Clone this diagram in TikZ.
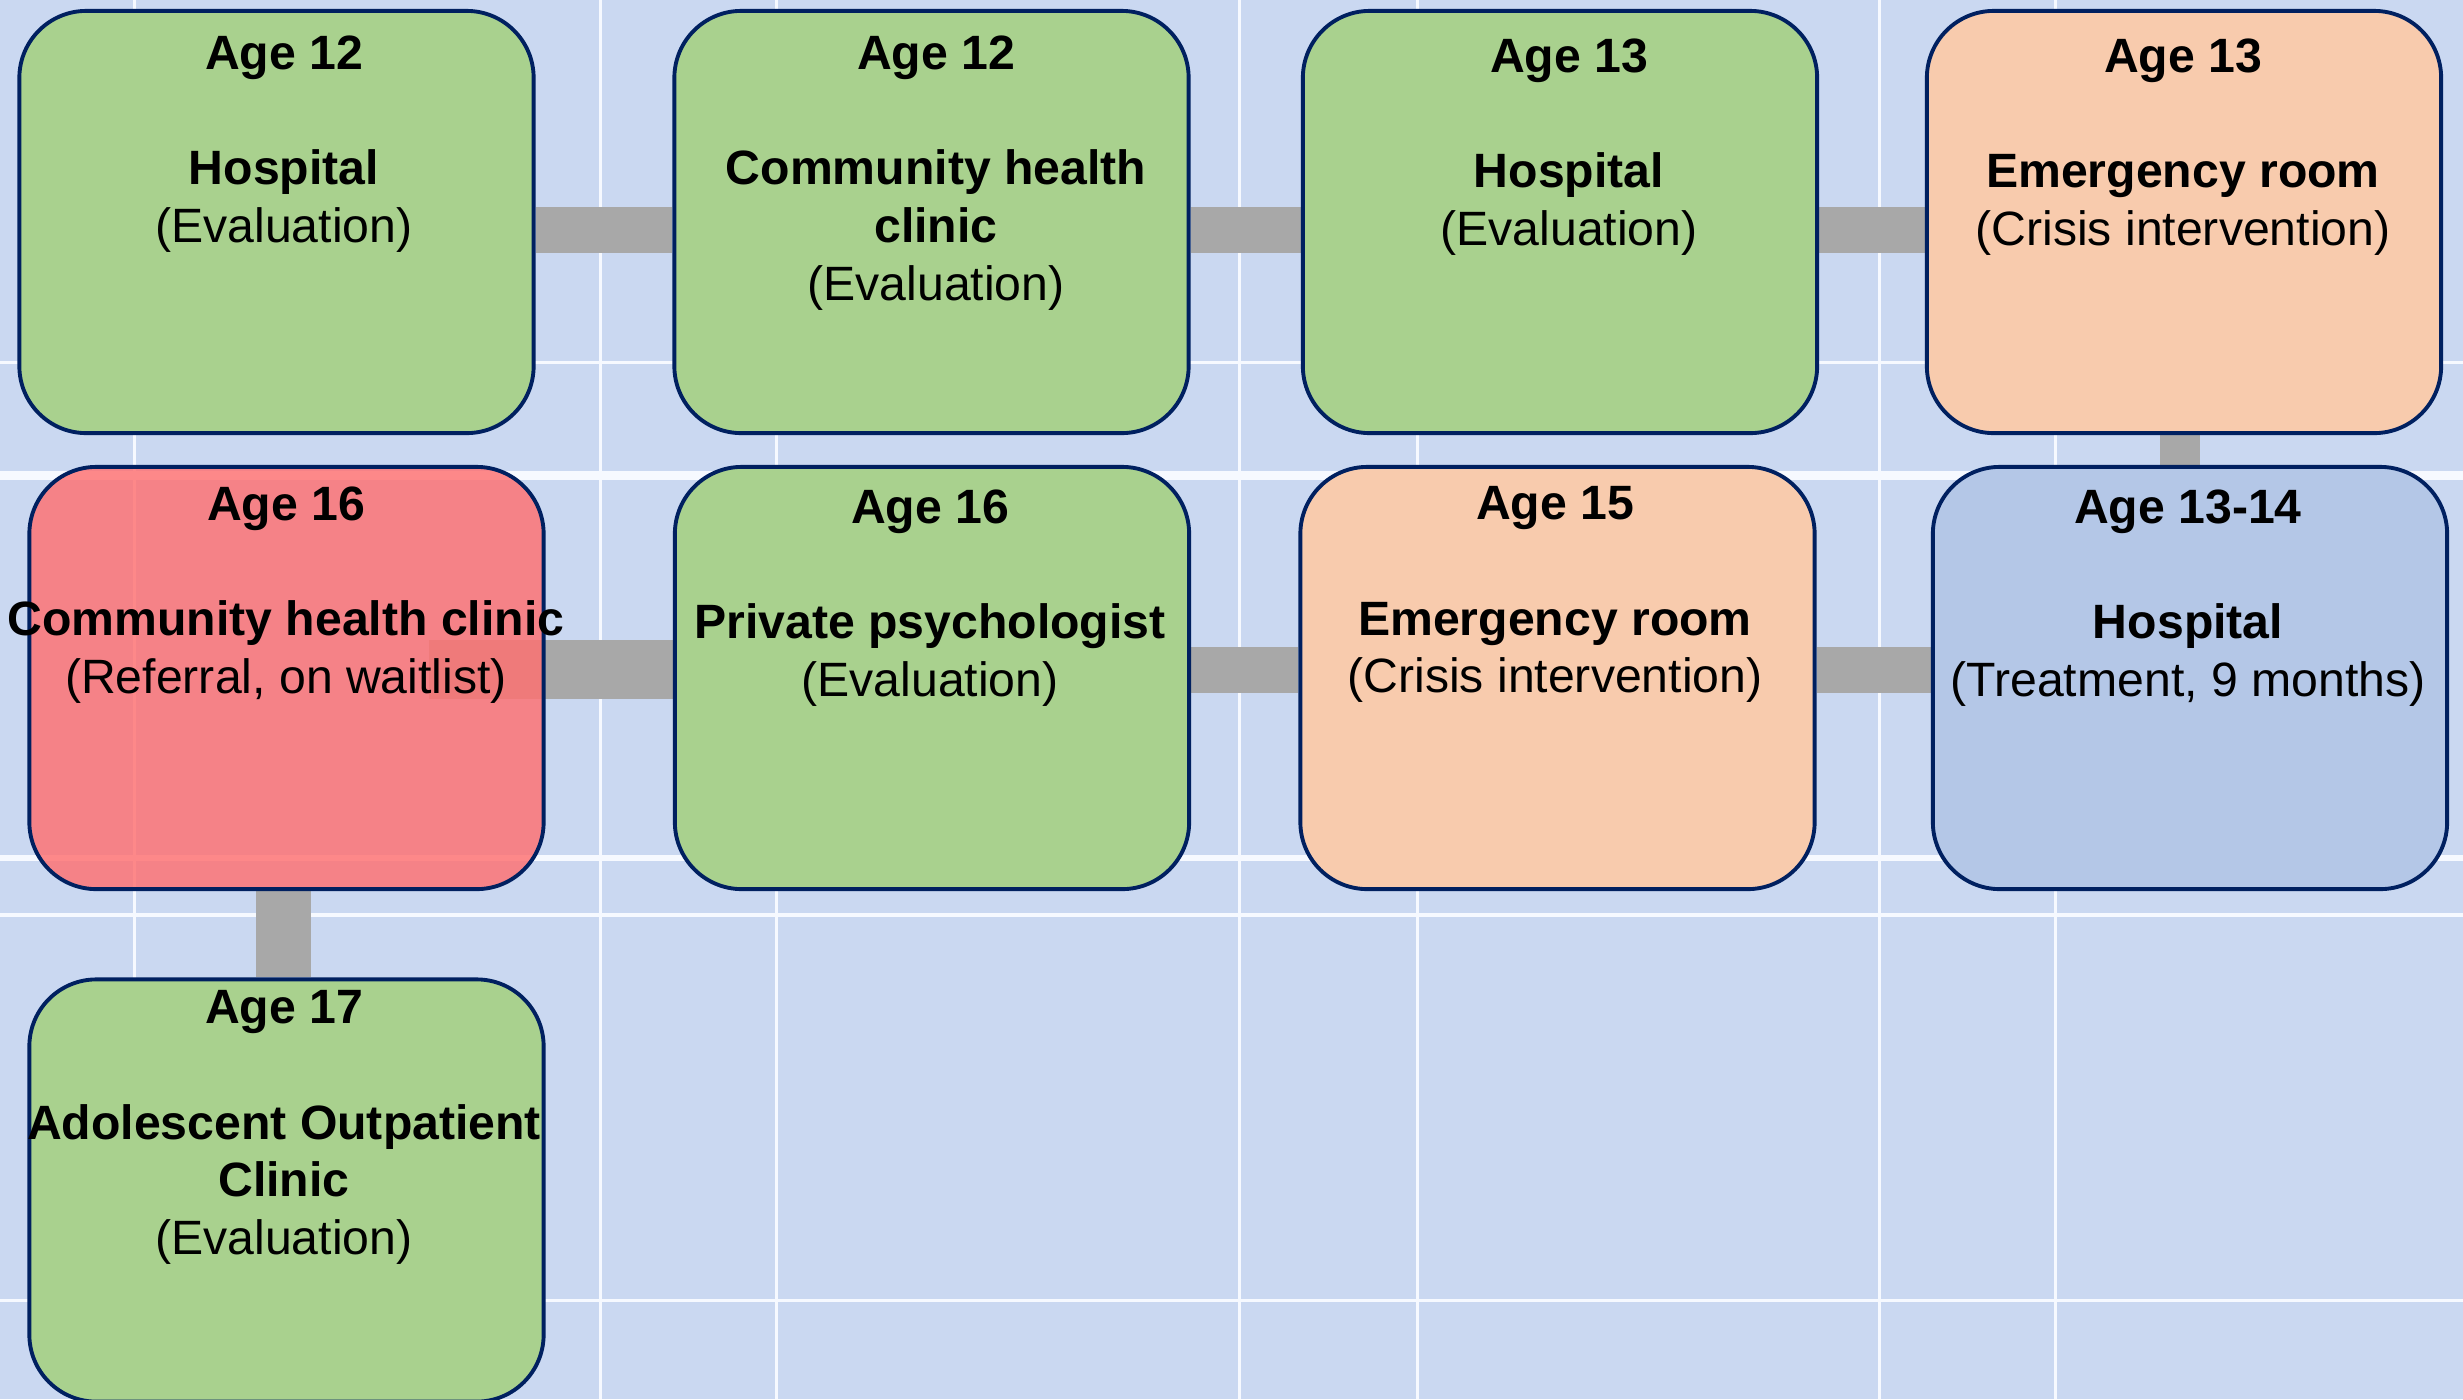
\documentclass[tikz,border=0pt]{standalone}
\usepackage{fontspec}
\setmainfont{Liberation Sans}
\pgfdeclarelayer{back}
\pgfdeclarelayer{conn}
\pgfsetlayers{back,conn,main}
\definecolor{bgblue}{RGB}{202,216,241}
\definecolor{gridwhite}{RGB}{246,249,255}
\definecolor{gfill}{RGB}{169,209,142}
\definecolor{pfill}{RGB}{248,203,173}
\definecolor{bfill}{RGB}{180,199,231}
\definecolor{rfill}{RGB}{255,112,112}
\definecolor{navy}{RGB}{0,32,96}
\definecolor{bargray}{RGB}{168,168,168}
\tikzset{
  card/.style={draw=navy, line width=1.1pt, rounded corners=0.67cm,
    minimum width=5.14cm, minimum height=4.22cm, inner sep=0pt},
  cardtext/.style={anchor=north, align=center, inner sep=0pt,
    font=\fontsize{13.7}{16.4}\selectfont},
  bar/.style={draw=bargray, line width=0.46cm},
}
\begin{document}
\begin{tikzpicture}[x=0.01cm,y=-0.01cm]
\useasboundingbox (0,0) rectangle (2463,1399);
\begin{pgfonlayer}{back}
  \fill[bgblue] (0,0) rectangle (2463,1399);
  \foreach \yy/\ww in {362/0.03, 475/0.09, 858/0.06, 915/0.04, 1300/0.03}
    \draw[gridwhite, line width=\ww cm] (0,\yy) -- (2463,\yy);
  \foreach \xx in {134,600,776,1239,1417,1879,2055}
    \draw[gridwhite, line width=0.03cm] (\xx,0) -- (\xx,1399);
\end{pgfonlayer}

% boxes
\node[card, fill=gfill] (b1) at (276.5,222) {};
\node[card, fill=gfill] (b2) at (931.5,222) {};
\node[card, fill=gfill] (b3) at (1560,222) {};
\node[card, fill=pfill] (b4) at (2184,222) {};
\node[card, fill=rfill, fill opacity=0.82] (b5) at (286.5,678) {};
\node[card, fill=gfill] (b6) at (932,678) {};
\node[card, fill=pfill] (b7) at (1557.5,678) {};
\node[card, fill=bfill] (b8) at (2190,678) {};
\node[card, fill=gfill] (b9) at (286.5,1190.5) {};

% texts
\node[cardtext] (t1) at (284,35) {\textbf{Age 12}\\[16.4pt]\textbf{Hospital}\\(Evaluation)};
\node[cardtext] (t2) at (936,35) {\textbf{Age 12}\\[16.4pt]\textbf{Community health}\\\textbf{clinic}\\(Evaluation)};
\node[cardtext] (t3) at (1569,38) {\textbf{Age 13}\\[16.4pt]\textbf{Hospital}\\(Evaluation)};
\node[cardtext] (t4) at (2183,38) {\textbf{Age 13}\\[16.4pt]\textbf{Emergency room}\\(Crisis intervention)};
\node[cardtext] (t5) at (286,486) {\textbf{Age 16}\\[16.4pt]\textbf{Community health clinic}\\(Referral, on waitlist)};
\node[cardtext] (t6) at (930,489) {\textbf{Age 16}\\[16.4pt]\textbf{Private psychologist}\\(Evaluation)};
\node[cardtext] (t7) at (1555,486) {\textbf{Age 15}\\[16.4pt]\textbf{Emergency room}\\(Crisis intervention)};
\node[cardtext] (t8) at (2188,489) {\textbf{Age 13-14}\\[16.4pt]\textbf{Hospital}\\(Treatment, 9 months)};
\node[cardtext] (t9) at (284,990) {\textbf{Age 17}\\[16.4pt]\textbf{Adolescent Outpatient}\\\textbf{Clinic}\\(Evaluation)};

% connectors
\coordinate (j56) at (429,669.5);
\begin{pgfonlayer}{conn}
  \draw[bar] (b1.east |- 0,230) -- (b2.west |- 0,230);
  \draw[bar] (b2.east |- 0,230) -- (b3.west |- 0,230);
  \draw[bar] (b3.east |- 0,230) -- (b4.west |- 0,230);
  \draw[bar, line width=0.40cm] (b4.south -| 2180,0) -- (b8.north -| 2180,0);
  \draw[bar] (b8.west |- 0,670) -- (b7.east |- 0,670);
  \draw[bar] (b7.west |- 0,670) -- (b6.east |- 0,670);
  \draw[bar, line width=0.59cm] (b6.west |- j56) -- (j56);
  \draw[bar, line width=0.55cm] (b5.south -| 283.5,0) -- (b9.north -| 283.5,0);
\end{pgfonlayer}
\end{tikzpicture}
\end{document}
